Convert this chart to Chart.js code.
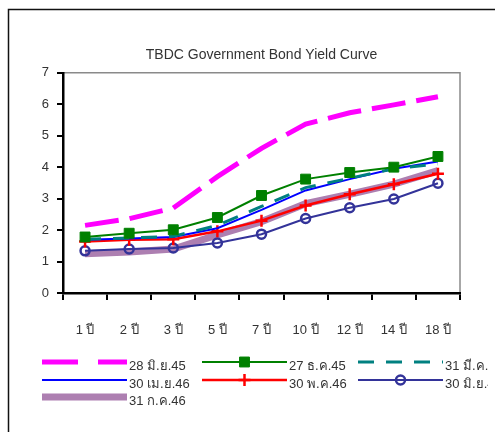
<!DOCTYPE html>
<html>
<head>
<meta charset="utf-8">
<script src="https://cdn.jsdelivr.net/npm/chart.js@4/dist/chart.umd.min.js"></script>
<style>
    body { margin: 0; background: #fff; }
</style>
</head>
<body>
<canvas id="yieldCurve" width="495" height="432"></canvas>
<script>
const maturities = ['1 ปี', '2 ปี', '3 ปี', '5 ปี', '7 ปี', '10 ปี', '12 ปี', '14 ปี', '18 ปี'];
const yieldTicks = [0, 1, 2, 3, 4, 5, 6, 7];

const jun45 = [2.15, 2.36, 2.7, 3.7, 4.6, 5.37, 5.73, 5.98, 6.24];
const dec45 = [1.78, 1.9, 2.01, 2.4, 3.1, 3.62, 3.83, 4.0, 4.34];
const mar46 = [1.71, 1.75, 1.8, 2.15, 2.75, 3.35, 3.65, 3.95, 4.1];
const apr46 = [1.69, 1.73, 1.78, 2.06, 2.64, 3.26, 3.62, 3.95, 4.18];
const may46 = [1.64, 1.69, 1.71, 1.96, 2.3, 2.78, 3.14, 3.46, 3.79];
const jun46 = [1.34, 1.4, 1.43, 1.59, 1.87, 2.37, 2.71, 2.99, 3.49];
const jul46 = [1.25, 1.3, 1.4, 1.85, 2.27, 2.84, 3.14, 3.46, 3.89];

const FONT = "'Liberation Sans', Arial, sans-serif";

// white page, outer frame and the grey top/right edge of the plot
const framePlugin = {
    id: 'frame',
    beforeDraw(chart) {
        const ctx = chart.ctx;
        ctx.save();
        ctx.fillStyle = '#fff';
        ctx.fillRect(0, 0, chart.width, chart.height);
        ctx.strokeStyle = '#111';
        ctx.lineWidth = 1.5;
        ctx.beginPath();
        ctx.moveTo(8.5, chart.height);
        ctx.lineTo(8.5, 9.5);
        ctx.lineTo(chart.width, 9.5);
        ctx.stroke();
        const a = chart.chartArea;
        ctx.strokeStyle = '#8a8a8a';
        ctx.lineWidth = 1.5;
        ctx.beginPath();
        ctx.moveTo(a.left, a.top);
        ctx.lineTo(a.right, a.top);
        ctx.lineTo(a.right, a.bottom);
        ctx.stroke();
        ctx.restore();
    }
};

// three-column legend under the axis, clipped at the right edge
const legendPlugin = {
    id: 'gridLegend',
    afterDraw(chart) {
        const ctx = chart.ctx;
        const cols = [42, 202, 358];
        const rows = [362, 380, 397];
        const sampleW = 85;
        ctx.save();
        ctx.beginPath();
        ctx.rect(0, 0, 488, chart.height);
        ctx.clip();
        chart.data.datasets.forEach((ds, i) => {
            const x = cols[i % 3];
            const y = rows[Math.floor(i / 3)];
            ctx.strokeStyle = ds.borderColor;
            ctx.lineWidth = ds.borderWidth;
            ctx.setLineDash(ds.legendDash || ds.borderDash || []);
            ctx.beginPath();
            ctx.moveTo(x, y);
            ctx.lineTo(x + sampleW, y);
            ctx.stroke();
            ctx.setLineDash([]);
            if (ds.pointRadius > 0) {
                ctx.fillStyle = ds.pointBackgroundColor;
                ctx.strokeStyle = ds.pointBorderColor;
                ctx.lineWidth = ds.pointBorderWidth;
                Chart.helpers.drawPoint(ctx, {
                    pointStyle: ds.pointStyle,
                    radius: ds.pointRadius,
                    borderWidth: ds.pointBorderWidth,
                    rotation: 0
                }, x + sampleW / 2, y);
            }
            ctx.fillStyle = '#333';
            ctx.font = '13px ' + FONT;
            ctx.textBaseline = 'middle';
            ctx.textAlign = 'left';
            ctx.fillText(ds.label, x + sampleW + 2, y + 4);
        });
        ctx.restore();
    }
};

const yieldData = {
    labels: maturities,
    datasets: [{
        label: '28 มิ.ย.45',
        data: jun45,
        borderColor: '#ff00ff',
        borderWidth: 5,
        borderDash: [34, 11],
        legendDash: [36, 20],
        pointRadius: 0
    }, {
        label: '27 ธ.ค.45',
        data: dec45,
        borderColor: '#008000',
        borderWidth: 2,
        pointStyle: 'rect',
        pointRadius: 7,
        pointBackgroundColor: '#008000',
        pointBorderColor: '#008000',
        pointBorderWidth: 1
    }, {
        label: '31 มี.ค.46',
        data: mar46,
        borderColor: '#008080',
        borderWidth: 3,
        borderDash: [16, 12],
        pointRadius: 0
    }, {
        label: '30 เม.ย.46',
        data: apr46,
        borderColor: '#0000ff',
        borderWidth: 2,
        pointRadius: 0
    }, {
        label: '30 พ.ค.46',
        data: may46,
        borderColor: '#ff0000',
        borderWidth: 2.5,
        pointStyle: 'cross',
        pointRadius: 6,
        pointBackgroundColor: '#ff0000',
        pointBorderColor: '#ff0000',
        pointBorderWidth: 2.5
    }, {
        label: '30 มิ.ย.46',
        data: jun46,
        borderColor: '#333399',
        borderWidth: 2,
        pointStyle: 'circle',
        pointRadius: 4.5,
        pointBackgroundColor: 'rgba(255,255,255,0)',
        pointBorderColor: '#333399',
        pointBorderWidth: 2.5
    }, {
        label: '31 ก.ค.46',
        data: jul46,
        borderColor: '#ad7fb1',
        borderWidth: 7,
        pointRadius: 0,
        order: 1
    }]
};

const yieldConfig = {
    type: 'line',
    data: yieldData,
    options: {
        responsive: false,
        animation: false,
        layout: {
            padding: { left: 0, right: 35, top: 0, bottom: 0 }
        },
        elements: {
            line: { tension: 0, fill: false }
        },
        plugins: {
            legend: { display: false },
            tooltip: { enabled: false },
            title: {
                display: true,
                fullSize: false,
                text: 'TBDC Government Bond Yield Curve',
                color: '#333',
                font: { family: FONT, size: 14, weight: 'normal' },
                padding: { top: 47, bottom: 9 }
            }
        },
        scales: {
            x: {
                offset: true,
                grid: {
                    offset: true,
                    drawOnChartArea: false,
                    tickLength: 7,
                    color: '#000',
                    lineWidth: 2
                },
                border: { color: '#000', width: 2.5 },
                ticks: {
                    color: '#333',
                    font: { family: FONT, size: 13 },
                    padding: 23,
                    maxRotation: 0
                },
                afterFit: (scale) => { scale.height = 139; }
            },
            y: {
                min: 0,
                max: 7,
                afterBuildTicks: (scale) => {
                    scale.ticks = yieldTicks.map(v => ({ value: v }));
                },
                grid: {
                    drawOnChartArea: false,
                    tickLength: 6,
                    color: '#000',
                    lineWidth: 2
                },
                border: { color: '#000', width: 2.5 },
                ticks: {
                    color: '#333',
                    font: { family: FONT, size: 13 },
                    padding: 8
                },
                afterFit: (scale) => { scale.width = 63; }
            }
        }
    },
    plugins: [framePlugin, legendPlugin]
};

const yieldChart = new Chart(
    document.getElementById('yieldCurve'),
    yieldConfig
);
</script>
</body>
</html>
